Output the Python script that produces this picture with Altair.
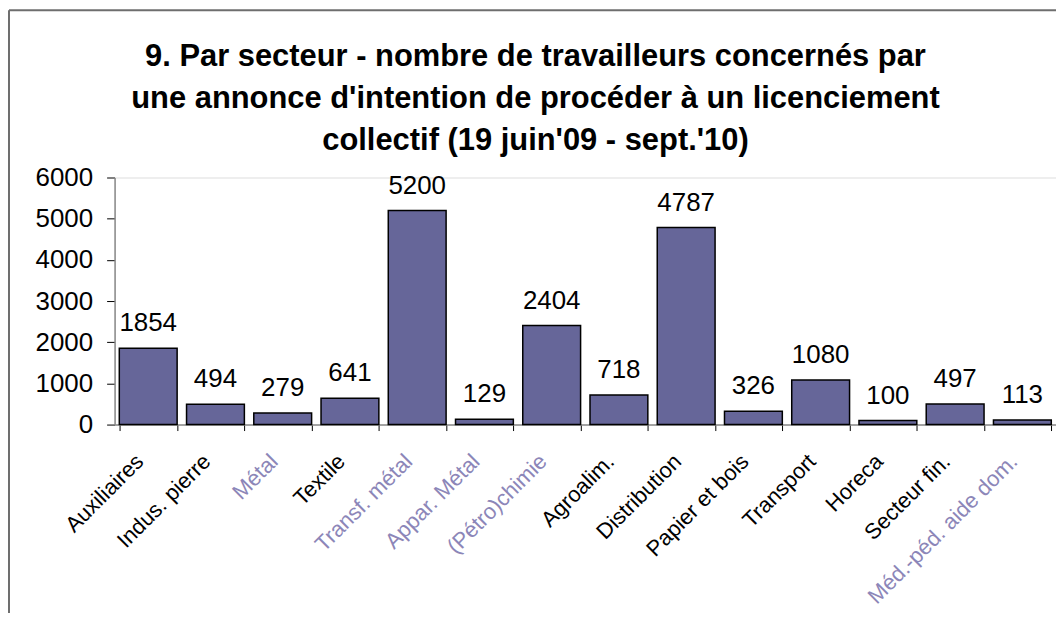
import altair as alt
import pandas as pd

sectors = ["Auxiliaires", "Indus. pierre", "Métal", "Textile", "Transf. métal",
           "Appar. Métal", "(Pétro)chimie", "Agroalim.", "Distribution",
           "Papier et bois", "Transport", "Horeca", "Secteur fin.",
           "Méd.-péd. aide dom."]
workers = [1854, 494, 279, 641, 5200, 129, 2404, 718, 4787, 326, 1080, 100, 497, 113]
faded = ["Métal", "Transf. métal", "Appar. Métal", "(Pétro)chimie", "Méd.-péd. aide dom."]

df = pd.DataFrame({"secteur": sectors, "travailleurs": workers})

faded_js = "[" + ",".join("'" + s + "'" for s in faded) + "]"

x = alt.X("secteur:N", sort=sectors, title=None,
          scale=alt.Scale(paddingInner=0.14, paddingOuter=0.07),
          axis=alt.Axis(labelAngle=-45, labelFont="Liberation Sans", labelFontSize=22,
                        labelColor=alt.ExprRef(f"indexof({faded_js}, datum.value) >= 0 ? '#8c86b8' : '#000000'"),
                        tickBand="extent", tickColor="#000000", tickSize=6, labelLimit=400,
                        domainColor="#8a8a8a", domainWidth=1.5, labelPadding=20,
                        labelOffset=-16))
y = alt.Y("travailleurs:Q", title=None,
          scale=alt.Scale(domain=[0, 6000], nice=False),
          axis=alt.Axis(values=[0, 1000, 2000, 3000, 4000, 5000, 6000], grid=False, format="d",
                        labelFont="Liberation Sans", labelFontSize=26, labelColor="#000000",
                        tickColor="#000000", tickSize=8, domainColor="#8a8a8a", domainWidth=1.5,
                        labelPadding=14))

base = alt.Chart(df)
bars = base.mark_bar(color="#666699", stroke="#000000", strokeWidth=1.5).encode(x=x, y=y)
labels = base.mark_text(baseline="bottom", dy=-12, font="Liberation Sans", fontSize=26,
                        color="#000000").encode(x=x, y=y, text="travailleurs:Q")

frame_df = pd.DataFrame({"a": [0]})
frame_left = alt.Chart(frame_df).mark_rule(color="#6e6e6e", strokeWidth=2).encode(
    x=alt.value(-106), y=alt.value(-168), y2=alt.value(440))
frame_top = alt.Chart(frame_df).mark_rule(color="#6e6e6e", strokeWidth=2).encode(
    x=alt.value(-106), x2=alt.value(960), y=alt.value(-168))

chart = alt.layer(frame_left, frame_top, bars, labels).properties(
    width=945, height=248,
    title=alt.TitleParams(
        text=["9. Par secteur - nombre de travailleurs concernés par",
              "une annonce d'intention de procéder à un licenciement",
              "collectif (19 juin'09 - sept.'10)"],
        font="Liberation Sans", fontSize=31, fontWeight="bold", color="#000000",
        lineHeight=42, anchor="middle", dx=-50, dy=170, offset=22),
    padding={"left": 107, "top": 169, "right": 0, "bottom": 188},
    autosize=alt.AutoSizeParams(type="none"),
).configure_view(stroke=None).configure(background="white")

chart.save("out.html", embed_options={"renderer": "svg", "actions": False})
